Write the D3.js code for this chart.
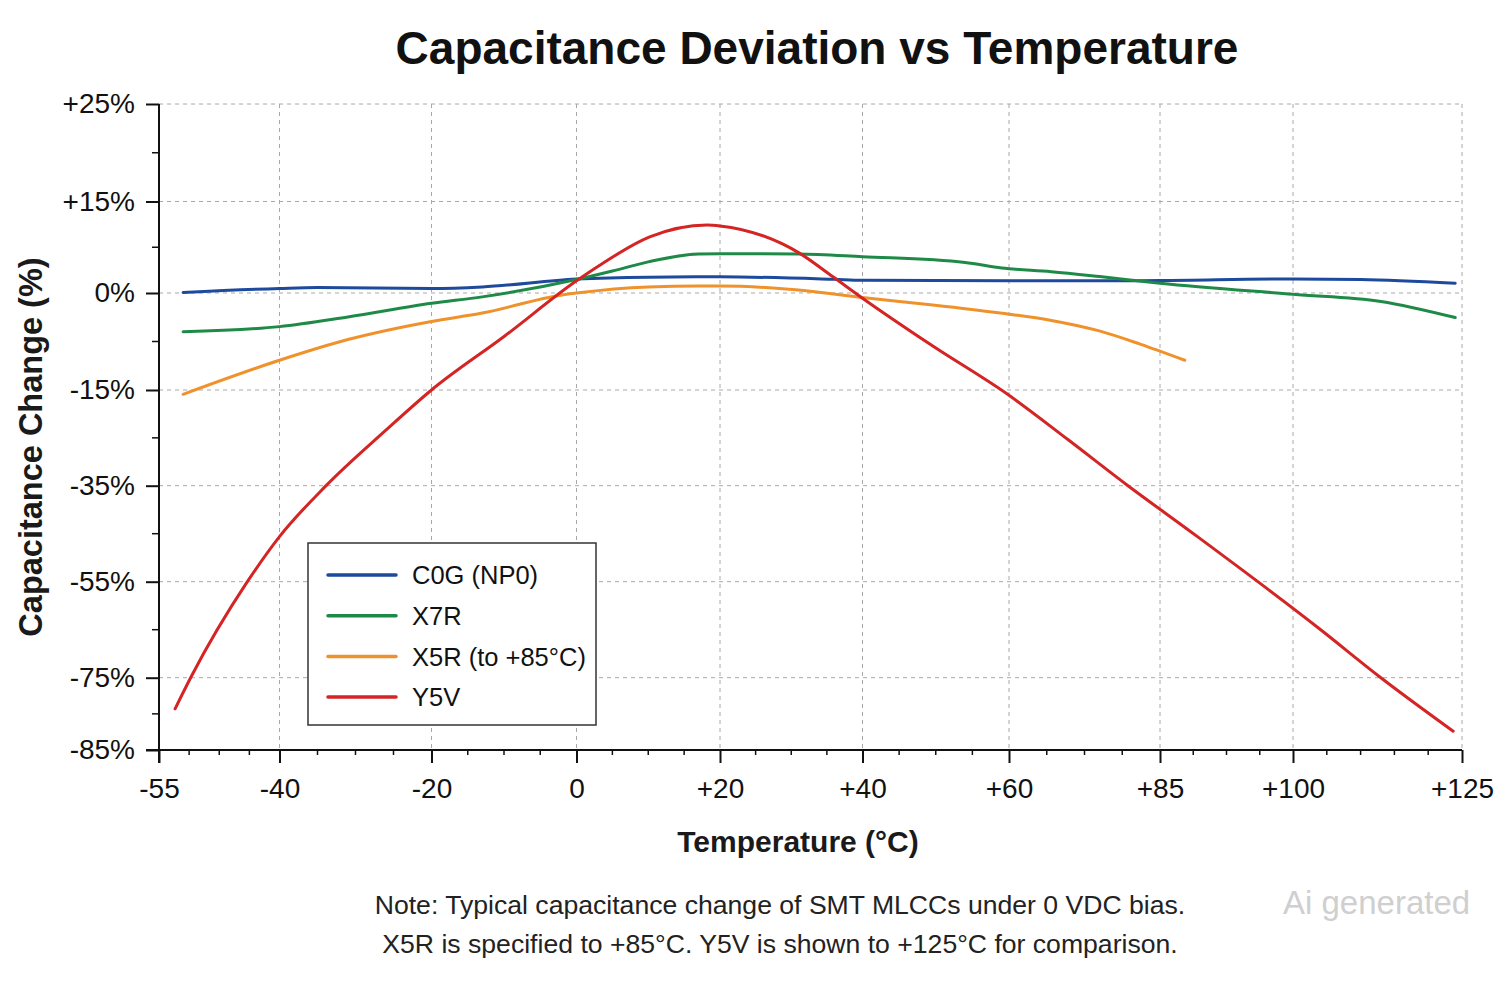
<!DOCTYPE html>
<html>
<head>
<meta charset="utf-8">
<script src="https://cdn.jsdelivr.net/npm/d3@7"></script>
<style>
  html, body { margin: 0; padding: 0; background: #ffffff; }
  svg { display: block; font-family: "Liberation Sans", Arial, sans-serif; }
</style>
</head>
<body>
<svg id="chart" width="1500" height="1000"></svg>
<script>
// ---------------- DATA ----------------
const xTickValues = [-55, -40, -20, 0, 20, 40, 60, 85, 100, 125];
const xTickLabels = ["-55", "-40", "-20", "0", "+20", "+40", "+60", "+85", "+100", "+125"];
const yTickValues = [25, 15, 0, -15, -35, -55, -75, -85];
const yTickLabels = ["+25%", "+15%", "0%", "-15%", "-35%", "-55%", "-75%", "-85%"];

const seriesNames = ["C0G (NP0)", "X7R", "X5R (to +85°C)", "Y5V"];

// [temperature °C, capacitance change %]
const c0g = [[-52,0.1],[-40,0.75],[-35,0.9],[-20,0.75],[-13,1.0],[0,2.3],[10,2.6],[20,2.65],[36,2.25],[40,2.1],[60,2.0],[75,2.0],[85,2.05],[100,2.3],[110,2.2],[124,1.6]];
const x7r = [[-52,-6.0],[-40,-5.2],[-31,-3.7],[-20,-1.6],[-13,-0.6],[0,2.2],[5,3.6],[10,5.1],[17,6.4],[20,6.45],[31,6.4],[40,5.95],[54,5.0],[59,4.1],[67,3.5],[75,2.7],[85,1.6],[100,-0.2],[113,-1.3],[124,-3.8]];
const x5r = [[-52,-15.9],[-40,-10.4],[-31,-7.2],[-20,-4.4],[-13,-3.1],[-2,-0.3],[0,0],[10,1.0],[17,1.15],[20,1.15],[31,0.5],[40,-0.7],[49.6,-1.85],[58.8,-3.1],[66.8,-4.2],[75.1,-5.9],[81.7,-7.9],[87.8,-10.4]];
const y5v = [[-53,-79.3],[-51,-74.8],[-44,-55],[-40,-45.6],[-34,-35.2],[-26,-23.4],[-20,-15],[-9.9,-6.65],[0,2.0],[3.3,4.6],[10.2,9.2],[18.2,11.15],[20,11.0],[31.2,6.5],[35.8,2.7],[40,-0.8],[49.6,-8.2],[59.9,-16.0],[69.8,-25.4],[79.7,-35],[88.7,-44.9],[104,-64.9],[112.9,-74.9],[123.7,-82.4]];

const seriesData = [c0g, x7r, x5r, y5v];
const seriesColors = ["#1d4a9c", "#1f8a47", "#f0922b", "#d42424"];

const noteLines = [
  "Note: Typical capacitance change of SMT MLCCs under 0 VDC bias.",
  "X5R is specified to +85°C. Y5V is shown to +125°C for comparison."
];

// ---------------- LAYOUT ----------------
const svg = d3.select("#chart");
const plotL = 159, plotR = 1462, plotT = 104, plotB = 750;

// The reference axes are non-uniform: piecewise-linear scales anchored on the ticks
const x = d3.scaleLinear()
  .domain(xTickValues)
  .range([159, 279.5, 431.5, 576.5, 720, 862.5, 1009, 1160, 1293, 1462]);
const y = d3.scaleLinear()
  .domain(yTickValues)
  .range([104, 201.5, 293, 390, 485.7, 581.7, 677.7, 750]);

// minor ticks
const xMinor = [];
for (let i = 0; i < xTickValues.length - 1; i++) {
  const a = xTickValues[i], b = xTickValues[i + 1];
  const n = (i === xTickValues.length - 2) ? 5 : 4;
  for (let k = 1; k < n; k++) xMinor.push(a + (b - a) * k / n);
}
const yMinor = [];
for (let i = 0; i < yTickValues.length - 1; i++) {
  yMinor.push((yTickValues[i] + yTickValues[i + 1]) / 2);
}

// gridlines
const grid = svg.append("g").attr("stroke", "#a8a8a8").attr("stroke-width", 1).attr("stroke-dasharray", "4,4");
grid.selectAll("line.v").data(xTickValues.slice(1)).join("line").attr("class", "v")
  .attr("x1", d => x(d)).attr("x2", d => x(d)).attr("y1", plotT).attr("y2", plotB);
grid.selectAll("line.h").data(yTickValues.slice(0, -1)).join("line").attr("class", "h")
  .attr("x1", plotL).attr("x2", plotR).attr("y1", d => y(d)).attr("y2", d => y(d));

// axes
const xAxis = d3.axisBottom(x).tickValues(xTickValues).tickFormat((d, i) => xTickLabels[i]).tickSize(13).tickPadding(15).tickSizeOuter(0);
const gx = svg.append("g").attr("transform", `translate(0,${plotB})`).call(xAxis);
gx.select(".domain").attr("stroke", "#111").attr("stroke-width", 2).attr("d", `M146,0H${plotR}`);
gx.selectAll(".tick line").attr("stroke", "#111").attr("stroke-width", 2);
gx.selectAll(".tick text").attr("font-size", 28).attr("fill", "#111").attr("font-family", "Liberation Sans, Arial, sans-serif");
gx.selectAll("line.minor").data(xMinor).join("line").attr("class", "minor")
  .attr("x1", d => x(d)).attr("x2", d => x(d)).attr("y1", 0).attr("y2", 5)
  .attr("stroke", "#111").attr("stroke-width", 1.5);

const yAxis = d3.axisLeft(y).tickValues(yTickValues).tickFormat((d, i) => yTickLabels[i]).tickSize(13).tickPadding(11).tickSizeOuter(0);
const gy = svg.append("g").attr("transform", `translate(${plotL},0)`).call(yAxis);
gy.select(".domain").attr("stroke", "#111").attr("stroke-width", 2).attr("d", `M0,${plotT}V${plotB + 13}`);
gy.selectAll(".tick line").attr("stroke", "#111").attr("stroke-width", 2);
gy.selectAll(".tick text").attr("font-size", 28).attr("fill", "#111").attr("font-family", "Liberation Sans, Arial, sans-serif");
gy.selectAll("line.minor").data(yMinor).join("line").attr("class", "minor")
  .attr("x1", -7).attr("x2", 0).attr("y1", d => y(d)).attr("y2", d => y(d))
  .attr("stroke", "#111").attr("stroke-width", 1.5);

// series lines
const line = d3.line().x(d => x(d[0])).y(d => y(d[1])).curve(d3.curveMonotoneX);
svg.append("g").selectAll("path").data(seriesData).join("path")
  .attr("d", line)
  .attr("fill", "none")
  .attr("stroke", (d, i) => seriesColors[i])
  .attr("stroke-width", 3)
  .attr("stroke-linecap", "round")
  .attr("stroke-linejoin", "round");

// legend
const lg = svg.append("g");
lg.append("rect").attr("x", 308).attr("y", 543).attr("width", 288).attr("height", 182)
  .attr("fill", "#fff").attr("stroke", "#333").attr("stroke-width", 1.5);
const items = lg.selectAll("g.item").data(seriesNames).join("g").attr("class", "item")
  .attr("transform", (d, i) => `translate(0,${575 + i * 40.7})`);
items.append("line").attr("x1", 328).attr("x2", 396).attr("y1", 0).attr("y2", 0)
  .attr("stroke", (d, i) => seriesColors[i]).attr("stroke-width", 3.5).attr("stroke-linecap", "round");
items.append("text").attr("x", 412).attr("y", 0).attr("dy", "0.36em")
  .attr("font-size", 25.5).attr("fill", "#111").text(d => d);

// title
svg.append("text").attr("x", 817).attr("y", 64).attr("text-anchor", "middle")
  .attr("font-size", 46).attr("font-weight", "bold").attr("fill", "#111")
  .text("Capacitance Deviation vs Temperature");

// axis titles
svg.append("text").attr("x", 798).attr("y", 852).attr("text-anchor", "middle")
  .attr("font-size", 30).attr("font-weight", "bold").attr("fill", "#1a1a1a")
  .text("Temperature (°C)");
svg.append("text").attr("transform", "translate(42,447) rotate(-90)").attr("text-anchor", "middle")
  .attr("font-size", 32.5).attr("font-weight", "bold").attr("fill", "#1a1a1a")
  .text("Capacitance Change (%)");

// notes
svg.append("g").selectAll("text").data(noteLines).join("text")
  .attr("x", 780).attr("y", (d, i) => 914 + i * 39).attr("text-anchor", "middle")
  .attr("font-size", 26.6).attr("fill", "#222").text(d => d);

svg.append("text").attr("x", 1283).attr("y", 914)
  .attr("font-size", 33).attr("fill", "#cfcfcf").text("Ai generated");
</script>
</body>
</html>
